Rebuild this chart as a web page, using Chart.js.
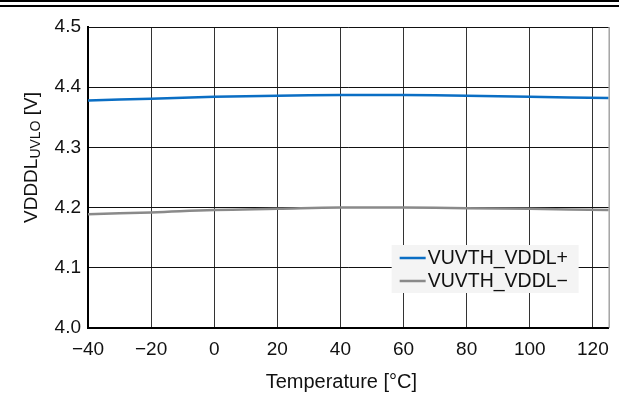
<!DOCTYPE html>
<html>
<head>
<meta charset="utf-8">
<script src="https://cdn.jsdelivr.net/npm/chart.js@4"></script>
<style>
  html, body { margin: 0; padding: 0; background: #fff; }
  #wrap { width: 619px; height: 399px; position: relative; }
</style>
</head>
<body>
<div id="wrap"><canvas id="uvloChart" width="619" height="399"></canvas></div>
<script>
// temperature points (°C)
const temps = [-40, -20, 0, 20, 40, 60, 80, 100, 125];
// VUVTH_VDDL+ (V)
const vddlPlus = [4.378, 4.381, 4.384, 4.386, 4.387, 4.387, 4.386, 4.384, 4.382];
// VUVTH_VDDL- (V)
const vddlMinus = [4.189, 4.192, 4.196, 4.198, 4.200, 4.200, 4.199, 4.198, 4.196];
const seriesNames = ['VUVTH_VDDL+', 'VUVTH_VDDL\u2212'];
const seriesColors = ['#0a6ec4', '#8a8a8a'];
const xTicks = [-40, -20, 0, 20, 40, 60, 80, 100, 120];
const yTicks = [4.0, 4.1, 4.2, 4.3, 4.4, 4.5];

const FONT = '"Liberation Sans", Arial, Helvetica, sans-serif';

const toPoints = (ys) => temps.map((t, i) => ({ x: t, y: ys[i] }));

// draws the page rule, the frame edge, axis titles and the legend box
const decorPlugin = {
    id: 'decor',
    afterDraw(chart) {
        const ctx = chart.ctx;
        const area = chart.chartArea;
        ctx.save();

        // double rule at the top of the page
        ctx.fillStyle = '#000';
        ctx.fillRect(0, 0, chart.width, 2);
        ctx.fillRect(0, 5, chart.width, 2);

        // right edge of the plot frame
        ctx.strokeStyle = '#777';
        ctx.lineWidth = 1;
        ctx.beginPath();
        ctx.moveTo(area.right + 0.5, area.top);
        ctx.lineTo(area.right + 0.5, area.bottom);
        ctx.stroke();

        // x title
        ctx.fillStyle = '#111';
        ctx.font = '20px ' + FONT;
        ctx.textAlign = 'center';
        ctx.textBaseline = 'middle';
        ctx.fillText('Temperature [\u00B0C]', (area.left + area.right) / 2 - 7, 382);

        // y title with subscript
        const main = 'VDDDL', sub = 'UVLO', tail = ' [V]';
        ctx.font = '19px ' + FONT;
        const wMain = ctx.measureText(main).width;
        const wTail = ctx.measureText(tail).width;
        ctx.font = '14px ' + FONT;
        const wSub = ctx.measureText(sub).width;
        const total = wMain + wSub + wTail;
        ctx.translate(37, (area.top + area.bottom) / 2 - 20);
        ctx.rotate(-Math.PI / 2);
        ctx.textAlign = 'left';
        ctx.textBaseline = 'alphabetic';
        let x0 = -total / 2;
        ctx.font = '19px ' + FONT;
        ctx.fillText(main, x0, 0);
        x0 += wMain;
        ctx.font = '14px ' + FONT;
        ctx.fillText(sub, x0, 3);
        x0 += wSub;
        ctx.font = '19px ' + FONT;
        ctx.fillText(tail, x0, 0);
        ctx.restore();

        // legend
        ctx.save();
        const bx = area.right - 217, by = area.bottom - 83, bw = 187, bh = 48;
        ctx.fillStyle = '#f4f4f4';
        ctx.fillRect(bx, by, bw, bh);
        ctx.font = '19.5px ' + FONT;
        ctx.textAlign = 'left';
        ctx.textBaseline = 'middle';
        seriesNames.forEach((name, i) => {
            const cy = by + 13 + i * 23;
            ctx.strokeStyle = seriesColors[i];
            ctx.lineWidth = 2.5;
            ctx.beginPath();
            ctx.moveTo(bx + 8, cy);
            ctx.lineTo(bx + 34, cy);
            ctx.stroke();
            ctx.fillStyle = '#111';
            ctx.fillText(name, bx + 36, cy + 1);
        });
        ctx.restore();
    }
};

new Chart(document.getElementById('uvloChart'), {
    type: 'line',
    data: {
        datasets: [
            { label: seriesNames[0], data: toPoints(vddlPlus), borderColor: seriesColors[0], borderWidth: 2.5, pointRadius: 0, tension: 0.4, fill: false },
            { label: seriesNames[1], data: toPoints(vddlMinus), borderColor: seriesColors[1], borderWidth: 2.5, pointRadius: 0, tension: 0.4, fill: false }
        ]
    },
    options: {
        responsive: false,
        animation: false,
        layout: { padding: { top: 27, right: 9, left: 0, bottom: 0 } },
        plugins: {
            legend: { display: false },
            tooltip: { enabled: false }
        },
        scales: {
            x: {
                type: 'linear',
                min: -40,
                max: 125,
                afterBuildTicks: (scale) => { scale.ticks = xTicks.map((v) => ({ value: v })); },
                afterFit: (scale) => { scale.height = 71; },
                ticks: {
                    color: '#111',
                    font: { family: FONT, size: 19 },
                    padding: 10,
                    maxRotation: 0,
                    callback: (v) => String(v).replace('-', '\u2212')
                },
                grid: { color: '#333', lineWidth: 1, drawTicks: false },
                border: { color: '#000', width: 2 }
            },
            y: {
                min: 4.0,
                max: 4.5,
                afterBuildTicks: (scale) => { scale.ticks = yTicks.map((v) => ({ value: v })); },
                afterFit: (scale) => { scale.width = 88; },
                ticks: {
                    color: '#111',
                    font: { family: FONT, size: 19 },
                    padding: 7,
                    callback: (v) => v.toFixed(1)
                },
                grid: { color: '#111', lineWidth: 1, drawTicks: false },
                border: { color: '#000', width: 2 }
            }
        }
    },
    plugins: [decorPlugin]
});
</script>
</body>
</html>
